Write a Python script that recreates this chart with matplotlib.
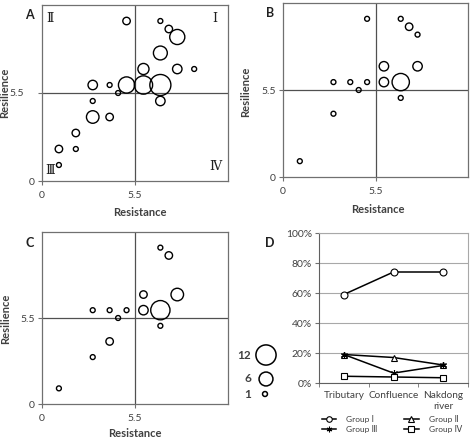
import numpy as np
import matplotlib.pyplot as plt
from matplotlib.lines import Line2D
from matplotlib.ticker import PercentFormatter

plt.rcParams['font.family'] = ['Lato', 'DejaVu Sans']

# panel A: resistance, resilience, number of sites
a_x = [5, 7, 7.5, 8, 7, 6, 8, 9, 3, 4, 5, 6, 7, 4.5, 3, 7, 3, 4, 2, 1, 2, 1]
a_y = [10, 10, 9.5, 9, 8, 7, 7, 7, 6, 6, 6, 6, 6, 5.5, 5, 5, 4, 4, 3, 2, 2, 1]
a_n = [2, 1, 2, 7, 6, 4, 3, 1, 3, 1, 8, 10, 13, 1, 1, 3, 5, 2, 2, 2, 1, 1]

# panel B
b_x = [5, 7, 7.5, 8, 6, 8, 3, 4, 5, 6, 7, 4.5, 7, 3, 1]
b_y = [10, 10, 9.5, 9, 7, 7, 6, 6, 6, 6, 6, 5.5, 5, 4, 1]
b_n = [1, 1, 2, 1, 3, 3, 1, 1, 1, 3, 9, 1, 1, 1, 1]

# panel C
c_x = [7, 7.5, 6, 8, 3, 4, 5, 6, 7, 4.5, 7, 4, 3, 1]
c_y = [10, 9.5, 7, 7, 6, 6, 6, 6, 6, 5.5, 5, 4, 3, 1]
c_n = [1, 2, 2, 5, 1, 1, 1, 3, 11, 1, 1, 2, 1, 1]

# panel D: share of each group per site type
sites = ['Tributary', 'Confluence', 'Nakdong\nriver']
group1 = [0.59, 0.74, 0.74]
group2 = [0.19, 0.17, 0.12]
group3 = [0.19, 0.066, 0.117]
group4 = [0.045, 0.04, 0.035]

size_legend = [12, 6, 1]

W, H = 472, 440
DARK = '#404040'


def rect(l, t, r, b):
    return [l / W, 1 - b / H, (r - l) / W, (b - t) / H]


def fpos(x, y):
    return x / W, 1 - y / H


def bubble_s(n):
    r = 3.1 * np.sqrt(np.asarray(n, dtype=float))
    d = 2 * r - 1.3
    return (d * 0.72) ** 2


def bubble_panel(ax, xs, ys, ns):
    ax.set_xlim(0, 11)
    ax.set_ylim(0, 11)
    ax.axvline(5.5, color='#505050', lw=0.9, zorder=1)
    ax.axhline(5.5, color='#505050', lw=0.9, zorder=1)
    ax.scatter(xs, ys, s=bubble_s(ns), facecolors='none', edgecolors='black',
               linewidths=1.0, zorder=3, clip_on=False)
    ax.set_xticks([0, 5.5])
    ax.set_xticklabels(['0', '5.5'])
    ax.set_yticks([0, 5.5])
    ax.set_yticklabels(['0', '5.5'])
    ax.tick_params(length=3, width=0.8, color='#707070', labelsize=7.5,
                   labelcolor=DARK, pad=2)
    ax.tick_params(axis='x', pad=4)
    for sp in ax.spines.values():
        sp.set_color('#707070')
        sp.set_linewidth(0.9)


fig = plt.figure(figsize=(W / 100, H / 100), dpi=100)

axA = fig.add_axes(rect(42, 5, 228, 181))
bubble_panel(axA, a_x, a_y, a_n)
axA.yaxis.get_major_ticks()[1].set_pad(10)
for s, (x, y) in zip(['Ⅱ', 'Ⅰ', 'Ⅲ', 'Ⅳ'], [(0.043, 0.925), (0.93, 0.925),
                                           (0.043, 0.06), (0.93, 0.08)]):
    axA.text(x, y, s, transform=axA.transAxes, ha='center', va='center',
             fontsize=9, color='#202020', family=['DejaVu Serif', 'DejaVu Sans'])

axB = fig.add_axes(rect(283, 3, 468, 177))
bubble_panel(axB, b_x, b_y, b_n)

axC = fig.add_axes(rect(42, 232, 228, 404))
bubble_panel(axC, c_x, c_y, c_n)

# axis titles
for (x, y) in [(140, 212), (378, 209), (135, 433)]:
    fig.text(*fpos(x, y), 'Resistance', ha='center', va='center',
             fontsize=8, fontweight='bold', color=DARK)
for (x, y) in [(5, 93), (246, 92), (6, 319)]:
    fig.text(*fpos(x, y), 'Resilience', ha='center', va='center', rotation=90,
             fontsize=8, fontweight='bold', color=DARK)

for s, (x, y) in zip('ABCD', [(29, 15), (270, 13), (30, 243), (270, 243)]):
    fig.text(*fpos(x, y), s, ha='center', va='center', fontsize=9,
             fontweight='bold', color='#202020')

# bubble size legend
axL = fig.add_axes(rect(236, 340, 290, 402))
axL.set_xlim(0, 54)
axL.set_ylim(62, 0)
axL.axis('off')
axL.scatter([30, 30, 29], [15, 39, 54], s=bubble_s(size_legend),
            facecolors='none', edgecolors='black', linewidths=1.1, clip_on=False)
for v, yy in zip(size_legend, [15, 38, 54]):
    axL.text(15, yy, str(v), ha='right', va='center', fontsize=8.5,
             fontweight='bold', color=DARK)

# panel D
axD = fig.add_axes(rect(319, 233, 468, 383))
xi = np.arange(len(sites))
kw = dict(color='black', lw=1.1, ms=5, mec='black', mew=0.8, clip_on=False)
axD.plot(xi, group1, marker='o', mfc='white', zorder=4, **kw)
axD.plot(xi, group2, marker='^', mfc='white', zorder=3, **kw)
axD.plot(xi, group3, marker=(6, 2, 0), zorder=3, **kw)
axD.plot(xi, group4, marker='s', mfc='white', zorder=3, **kw)
axD.set_xlim(-0.5, 2.5)
axD.set_ylim(0, 1)
axD.set_yticks(np.arange(0, 1.01, 0.2))
axD.yaxis.set_major_formatter(PercentFormatter(1.0, decimals=0))
axD.set_xticks(xi)
axD.set_xticklabels(sites)
axD.set_xticks([-0.5, 0.5, 1.5, 2.5], minor=True)
axD.tick_params(axis='x', which='major', length=0, pad=6, labelsize=7.2)
axD.tick_params(axis='x', which='minor', length=3, color='#707070')
axD.tick_params(axis='y', length=3, color='#707070', pad=2, labelsize=7.5)
axD.tick_params(labelcolor=DARK)
axD.grid(axis='y', color='#a8a8a8', lw=0.8)
axD.set_axisbelow(True)
for sp in axD.spines.values():
    sp.set_color('#a8a8a8')
    sp.set_linewidth(0.8)
axD.spines['left'].set_color('#606060')
axD.spines['bottom'].set_color('#606060')

handles = [
    Line2D([], [], marker='o', mfc='white', **kw),
    Line2D([], [], marker='^', mfc='white', **kw),
    Line2D([], [], marker=(6, 2, 0), **kw),
    Line2D([], [], marker='s', mfc='white', **kw),
]
for h in handles:
    h.set_markersize(4)
labels = ['Group Ⅰ', 'Group Ⅱ', 'Group Ⅲ', 'Group Ⅳ']
fig.legend(handles[0::2] + handles[1::2], labels[0::2] + labels[1::2], ncol=2,
           loc='center', bbox_to_anchor=fpos(392, 424), frameon=False,
           fontsize=6, handlelength=1.7, handletextpad=1.2, columnspacing=3.2,
           labelspacing=0.2, labelcolor=DARK)

fig.savefig('out.png', dpi=100)
